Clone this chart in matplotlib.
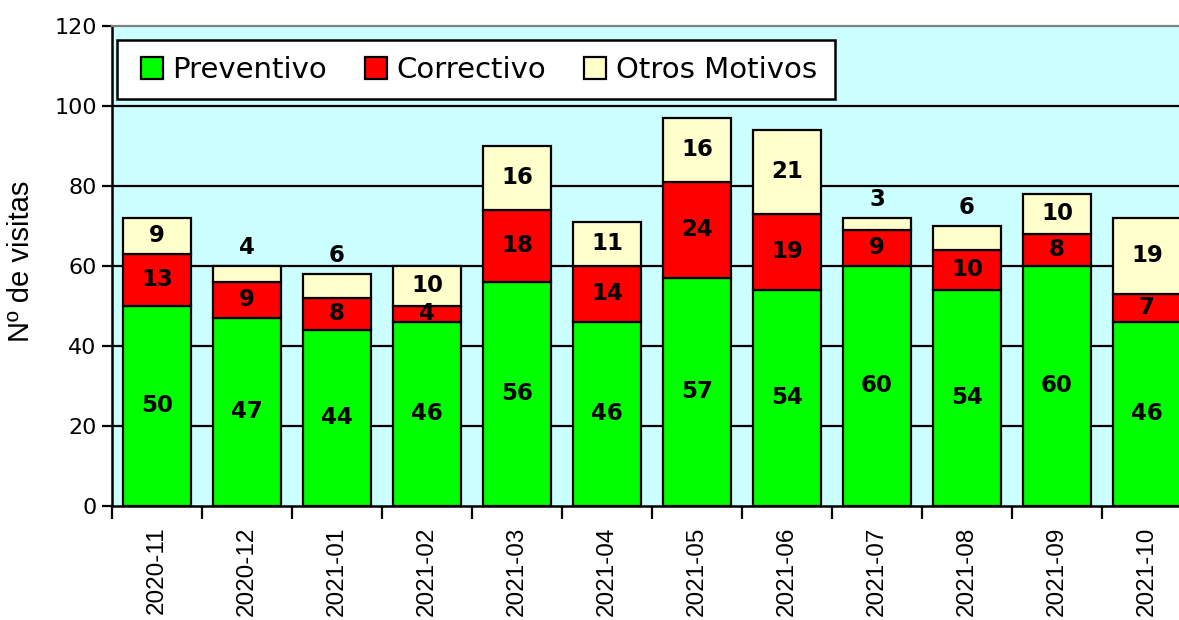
import matplotlib
matplotlib.use("Agg")
import matplotlib.pyplot as plt
from matplotlib.patches import Rectangle
import numpy as np

months = ["2020-11", "2020-12", "2021-01", "2021-02", "2021-03", "2021-04",
          "2021-05", "2021-06", "2021-07", "2021-08", "2021-09", "2021-10"]
preventivo = [50, 47, 44, 46, 56, 46, 57, 54, 60, 54, 60, 46]
correctivo = [13, 9, 8, 4, 18, 14, 24, 19, 9, 10, 8, 7]
otros = [9, 4, 6, 10, 16, 11, 16, 21, 3, 6, 10, 19]
series_names = ["Preventivo", "Correctivo", "Otros Motivos"]
yticks = [0, 20, 40, 60, 80, 100, 120]

colors = ["#00FF00", "#FF0000", "#FFFFCC"]
W, H = 1179, 620
fig = plt.figure(figsize=(W / 100, H / 100), dpi=100)
ax = fig.add_axes([112 / W, (H - 506) / H, 1080 / W, 480 / H])
ax.set_facecolor("#CCFFFF")

x = np.arange(len(months))
bw = 0.755
series = [preventivo, correctivo, otros]
bottom = np.zeros(len(months))
bars = []
for vals, col, name in zip(series, colors, series_names):
    b = ax.bar(x, vals, bw, bottom=bottom, color=col, edgecolor="black",
               linewidth=1.6, label=name, zorder=3)
    bars.append(b)
    bottom = bottom + np.array(vals)

# data labels
bottom = np.zeros(len(months))
for si, vals in enumerate(series):
    for i, v in enumerate(vals):
        yc = bottom[i] + v / 2
        if si == 2 and v < 7:
            yc = bottom[i] + v + 4.5
        ax.text(x[i], yc, str(v), ha="center", va="center", fontsize=16.5,
                fontweight="bold", family="DejaVu Sans", zorder=5)
    bottom = bottom + np.array(vals)

ax.set_xlim(-0.5, len(months) - 0.5)
ax.set_ylim(0, 120)
ax.set_yticks(yticks)
ax.set_yticklabels([str(t) for t in yticks], fontsize=16, family="DejaVu Sans")
ax.tick_params(axis="y", direction="out", length=7, width=1.6, pad=4)

ax.set_xticks(x)
ax.set_xticklabels(months, rotation=90, fontsize=17.5, family="Liberation Sans")
ax.tick_params(axis="x", which="major", length=0, pad=15)
ax.set_xticks(np.arange(-0.5, len(months), 1), minor=True)
ax.tick_params(axis="x", which="minor", direction="out", length=9, width=1.6)

ax.set_axisbelow(True)
for t in yticks[1:-1]:
    ax.axhline(t, color="black", linewidth=1.6, zorder=1)

for s in ["left", "bottom"]:
    ax.spines[s].set_linewidth(1.8)
    ax.spines[s].set_color("black")
ax.spines["top"].set_color("#808080")
ax.spines["top"].set_linewidth(1.6)
ax.spines["right"].set_visible(False)

ax.set_ylabel("Nº de visitas", fontsize=21, family="Liberation Sans")
ax.yaxis.set_label_coords(-0.0713, 0.51)

# legend frame drawn as figure rectangle
frame = Rectangle((117 / W, 1 - 99 / H), (835 - 117) / W, 59 / H,
                  transform=fig.transFigure, facecolor="white",
                  edgecolor="black", linewidth=1.8, zorder=10)
fig.patches.append(frame)
leg = fig.legend(handles=bars, labels=series_names, loc="center left",
                 bbox_to_anchor=(141 / W, 1 - 70 / H), ncol=3,
                 frameon=False,
                 handlelength=0.76, handleheight=0.76, handletextpad=0.32,
                 columnspacing=1.3, borderpad=0, borderaxespad=0,
                 prop={"family": "DejaVu Sans", "size": 21})
leg.set_zorder(11)
for p in leg.get_patches():
    p.set_linewidth(1.6)

fig.savefig("out.png", dpi=100)
